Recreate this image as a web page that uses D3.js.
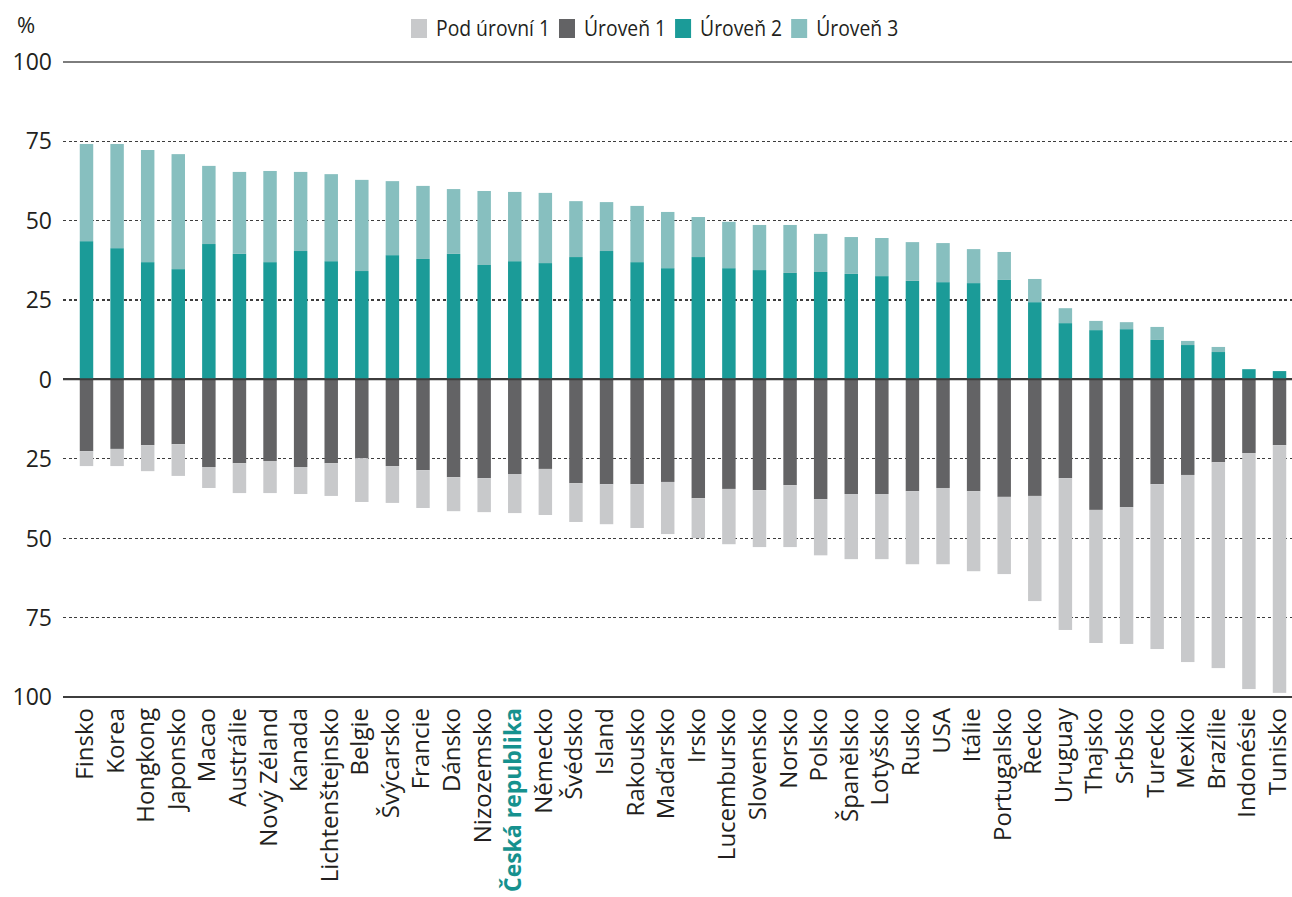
<!DOCTYPE html>
<html lang="cs">
<head>
<meta charset="utf-8">
<script src="https://cdn.jsdelivr.net/npm/d3@7"></script>
<style>
  html, body { margin: 0; padding: 0; background: #fff; }
  svg text { font-family: "Open Sans", "Noto Sans", sans-serif; }
</style>
</head>
<body>
<svg id="chart" width="1292" height="897"></svg>
<script>
// Země v pořadí podle podílu žáků na úrovni 2 a 3
const countries = ["Finsko","Korea","Hongkong","Japonsko","Macao","Austrálie","Nový Zéland","Kanada",
  "Lichtenštejnsko","Belgie","Švýcarsko","Francie","Dánsko","Nizozemsko","Česká republika","Německo",
  "Švédsko","Island","Rakousko","Maďarsko","Irsko","Lucembursko","Slovensko","Norsko","Polsko",
  "Španělsko","Lotyšsko","Rusko","USA","Itálie","Portugalsko","Řecko","Uruguay","Thajsko","Srbsko",
  "Turecko","Mexiko","Brazílie","Indonésie","Tunisko"];

// Podíly žáků (%) v jednotlivých úrovních
const belowLevel1 = [4.7,5.4,8.2,10.0,6.6,9.4,10.1,8.5,10.3,13.8,11.6,11.9,10.7,10.7,12.3,14.5,
  12.2,12.6,13.8,16.4,12.6,17.4,17.9,19.5,17.7,20.5,20.5,23.0,24.0,25.2,24.3,33.1,47.8,41.9,43.1,
  51.9,58.9,64.8,74.3,78.0];
const level1 = [22.6,21.9,20.7,20.4,27.6,26.4,25.7,27.6,26.4,24.8,27.3,28.6,30.8,31.1,29.8,28.2,
  32.7,33.0,33.0,32.3,37.4,34.5,34.9,33.3,37.7,36.1,36.1,35.2,34.2,35.2,37.0,36.7,31.1,41.1,40.2,
  33.0,30.1,26.1,23.2,20.7];
const level2 = [43.5,41.3,36.9,34.7,42.6,39.5,36.9,40.4,37.2,34.1,39.1,37.9,39.5,36.0,37.2,36.6,
  38.5,40.4,36.9,35.0,38.5,35.0,34.4,33.5,33.8,33.2,32.5,31.0,30.6,30.3,31.3,24.3,17.7,15.5,15.8,
  12.4,10.8,8.6,3.2,2.6];
const level3 = [30.6,32.8,35.3,36.2,24.6,25.8,28.7,24.9,27.4,28.7,23.3,23.0,20.4,23.3,21.8,22.1,
  17.6,15.4,17.7,17.7,12.6,14.6,14.2,15.1,12.0,11.6,12.0,12.2,12.3,10.7,8.8,7.3,4.7,2.9,2.2,
  4.1,1.3,1.6,0,0];

const yTicks = [-100,-75,-50,-25,0,25,50,75,100];
const highlighted = "Česká republika";

const seriesNames = {
  below1: "Pod úrovní 1",
  level1: "Úroveň 1",
  level2: "Úroveň 2",
  level3: "Úroveň 3"
};
const legendOrder = ["below1","level1","level2","level3"];
const colors = {
  below1: "#c8c9cb",
  level1: "#636365",
  level2: "#1b9b98",
  level3: "#87bfbf"
};
const textColor = "#231f20";
const highlightColor = "#16918e";

// Úrovně pod 2 se kreslí směrem dolů (záporné hodnoty)
const rows = countries.map((c, i) => ({
  country: c,
  level2: level2[i],
  level3: level3[i],
  level1: -level1[i],
  below1: -belowLevel1[i]
}));

const svg = d3.select("#chart");
const plotLeft = 63, plotRight = 1292;

const step = 30.59;
const x = d3.scaleBand()
  .domain(countries)
  .range([86.5 - step / 2, 86.5 - step / 2 + step * countries.length])
  .paddingInner(0.56)
  .paddingOuter(0.28);

const y = d3.scaleLinear().domain([-100, 100]).range([697, 61.7]);

// Mřížka
const grid = svg.append("g");
grid.selectAll("line").data(yTicks).join("line")
  .attr("x1", plotLeft).attr("x2", plotRight)
  .attr("y1", d => y(d)).attr("y2", d => y(d))
  .attr("stroke", d => d === 100 ? "#7d7d7d" : "#3d3d3d")
  .attr("stroke-width", d => (d === 0 || Math.abs(d) === 100) ? 2 : 1.2)
  .attr("stroke-dasharray", d => (d === 0 || Math.abs(d) === 100) ? null : "3,2.5")
  .attr("shape-rendering", "crispEdges");

// Popisky osy y (absolutní hodnoty)
const yAxis = d3.axisLeft(y).tickValues(yTicks).tickFormat(d => Math.abs(d)).tickSize(0).tickPadding(0);
const yg = svg.append("g").attr("transform", "translate(52,0)").call(yAxis);
yg.select(".domain").remove();
yg.selectAll("text")
  .attr("font-size", 23)
  .attr("font-family", "'Open Sans', sans-serif")
  .style("fill", textColor)
  .attr("dy", "0.34em");

svg.append("text").attr("x", 17).attr("y", 33).attr("font-size", 22)
  .style("fill", textColor).text("%");

// Skládané sloupce
const stack = d3.stack()
  .keys(["level2","level3","level1","below1"])
  .offset(d3.stackOffsetDiverging);
const layers = stack(rows);

const bars = svg.append("g");
layers.forEach(layer => {
  bars.append("g").attr("fill", colors[layer.key])
    .selectAll("rect").data(layer).join("rect")
    .attr("x", d => x(d.data.country))
    .attr("width", x.bandwidth())
    .attr("y", d => y(Math.max(d[0], d[1])))
    .attr("height", d => Math.abs(y(d[0]) - y(d[1])));
});

// Nulová osa přes sloupce
svg.append("line")
  .attr("x1", plotLeft).attr("x2", plotRight)
  .attr("y1", y(0)).attr("y2", y(0))
  .attr("stroke", "#3d3d3d").attr("stroke-width", 2);

// Popisky osy x
const xAxis = d3.axisBottom(x).tickSize(0).tickPadding(0);
const xg = svg.append("g").attr("transform", `translate(0,${y(-100) + 11})`).call(xAxis);
xg.select(".domain").remove();
xg.selectAll("text")
  .attr("font-size", 24)
  .attr("font-family", "'Open Sans', sans-serif")
  .attr("text-anchor", "end")
  .attr("transform", "rotate(-90)")
  .attr("x", 0)
  .attr("y", 0)
  .attr("dy", "0.27em")
  .style("fill", d => d === highlighted ? highlightColor : textColor)
  .attr("font-weight", d => d === highlighted ? 700 : 400)
  .filter(d => d === highlighted)
  .attr("textLength", 184)
  .attr("lengthAdjust", "spacingAndGlyphs");

// Legenda
const legend = svg.append("g").attr("transform", "translate(411,19)");
let lx = 0;
legendOrder.forEach(key => {
  const g = legend.append("g").attr("transform", `translate(${lx},0)`);
  g.append("rect").attr("width", 16).attr("height", 19).attr("fill", colors[key]);
  const t = g.append("text")
    .attr("transform", "translate(25,17) scale(0.86,1)")
    .attr("font-size", 22.5)
    .style("fill", textColor)
    .text(seriesNames[key]);
  lx += 25 + t.node().getComputedTextLength() * 0.86 + 9;
});
</script>
</body>
</html>
